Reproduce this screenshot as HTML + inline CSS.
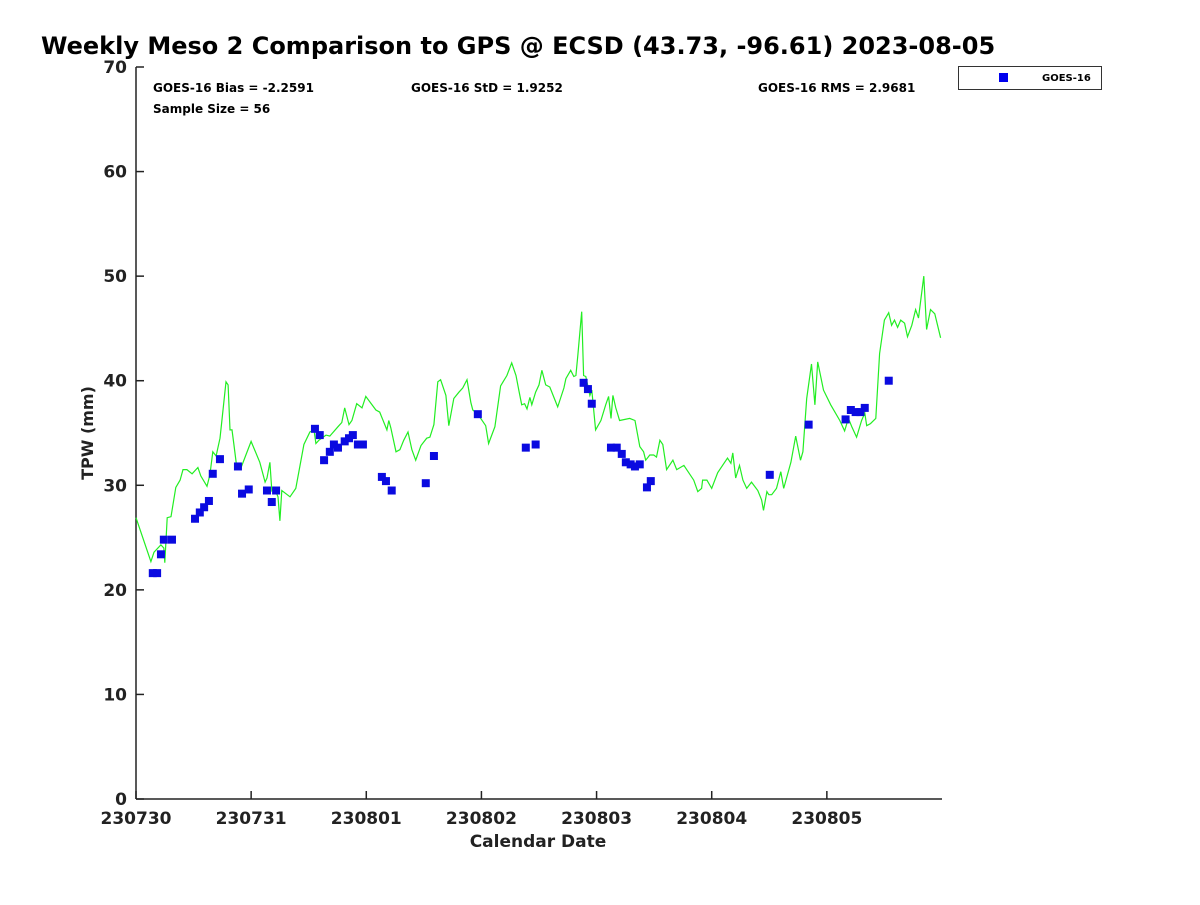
<!DOCTYPE html>
<html><head><meta charset="utf-8"><style>
body{margin:0;background:#fff;}
svg text{font-family:"DejaVu Sans","Liberation Sans",sans-serif;font-weight:bold;fill:#222;}
</style></head><body>
<svg id="chart" width="1200" height="900" xmlns="http://www.w3.org/2000/svg">
<text x="41" y="54" font-size="24" style="fill:#000">Weekly Meso 2 Comparison to GPS @ ECSD (43.73, -96.61) 2023-08-05</text>
<g id="axes"></g>
<text x="153" y="92" font-size="12" style="fill:#000">GOES-16 Bias = -2.2591</text>
<text x="411" y="92" font-size="12" style="fill:#000">GOES-16 StD = 1.9252</text>
<text x="758" y="92" font-size="12" style="fill:#000">GOES-16 RMS = 2.9681</text>
<text x="153" y="113" font-size="12" style="fill:#000">Sample Size = 56</text>
<g>
<rect x="958.5" y="66.5" width="143" height="23" fill="#fff" stroke="#333" stroke-width="1"/>
<rect x="999" y="73" width="9" height="9" fill="#0000ee"/>
<text x="1042" y="81" font-size="10" style="fill:#000">GOES-16</text>
</g>
<text x="538" y="847" font-size="17" text-anchor="middle">Calendar Date</text>
<text transform="translate(93,433) rotate(-90)" font-size="16" text-anchor="middle">TPW (mm)</text>
</svg>
<script>
const xTickLabels=["230730","230731","230801","230802","230803","230804","230805"];
const xTickHours=[0,24,48,72,96,120,144];
const yTicks=[0,10,20,30,40,50,60,70];
const gpsHours=[0,3.1,3.75,5.2,5.8,6.0,6.5,7.3,8.3,9.2,9.8,10.6,11.7,12.9,13.5,14.8,15.4,16.0,16.7,17.5,17.9,18.75,19.2,19.6,20.0,20.4,21.0,21.9,24.0,25.8,26.9,27.3,27.9,28.3,28.75,29.6,30.0,30.4,32.1,33.3,35.0,36.25,37.1,37.5,38.1,39.6,40.4,42.1,42.9,43.5,44.4,45.0,46.0,47.1,47.9,50.0,50.8,52.3,52.7,53.1,54.2,55.0,55.8,56.7,57.5,58.3,59.4,60.6,61.25,62.1,62.9,63.5,64.6,65.2,66.25,67.3,68.1,69.0,69.8,70.2,71.25,72.9,73.5,74.8,76.0,77.3,78.3,79.2,79.8,80.4,81.0,81.5,82.1,82.5,83.3,84.0,84.6,85.4,86.25,87.1,87.9,89.2,89.6,90.6,91.25,91.7,92.1,92.9,93.3,93.75,94.6,95.0,95.8,96.9,97.9,98.5,99.0,99.4,100.0,100.8,102.9,104.0,105.0,105.8,106.25,107.1,107.9,108.5,109.2,109.8,110.6,111.9,112.7,114.2,116.25,117.1,117.9,118.1,119.0,120.0,121.25,123.3,124.0,124.4,125.0,125.8,126.5,127.3,128.3,129.6,130.4,130.8,131.5,131.9,132.5,133.5,134.4,135.0,136.5,137.5,138.5,139.0,139.8,140.8,141.5,142.1,143.3,144.8,146.7,147.7,148.5,149.2,150.2,151.25,151.9,152.3,153.1,154.2,155.0,156.0,156.9,157.5,158.1,158.75,159.4,160.2,160.8,161.7,162.5,163.1,164.2,164.8,165.6,166.5,167.7];
const gpsTpw=[26.9,22.7,23.6,24.3,24.0,22.6,26.9,27.0,29.8,30.5,31.5,31.5,31.1,31.7,30.9,29.9,31.0,33.2,32.8,34.5,36.2,39.9,39.6,35.3,35.3,33.9,31.7,31.7,34.2,32.2,30.3,30.7,32.2,29.5,29.8,28.9,26.6,29.5,28.9,29.7,33.9,35.1,35.3,34.0,34.3,34.8,34.7,35.6,36.0,37.4,35.8,36.2,37.8,37.4,38.5,37.2,37.0,35.3,36.2,35.5,33.2,33.4,34.3,35.1,33.4,32.4,33.8,34.5,34.6,35.8,39.9,40.1,38.6,35.7,38.3,38.9,39.3,40.1,37.9,37.2,36.8,35.7,34.0,35.6,39.5,40.5,41.7,40.5,39.1,37.7,37.8,37.3,38.4,37.7,38.9,39.6,41.0,39.6,39.4,38.4,37.5,39.3,40.2,41.0,40.4,40.5,42.5,46.6,40.5,40.4,38.6,39.1,35.3,36.2,37.7,38.5,36.4,38.6,37.4,36.2,36.4,36.2,33.7,33.2,32.4,32.9,32.9,32.7,34.3,33.9,31.5,32.4,31.5,31.9,30.5,29.4,29.7,30.5,30.5,29.7,31.2,32.6,32.1,33.1,30.7,31.9,30.5,29.7,30.3,29.5,28.6,27.6,29.4,29.1,29.1,29.7,31.3,29.7,32.2,34.7,32.4,33.2,38.3,41.6,37.7,41.8,39.1,37.7,36.2,35.2,36.4,35.6,34.6,36.2,36.9,35.7,35.9,36.4,42.6,45.8,46.5,45.3,45.8,45.1,45.8,45.5,44.2,45.3,46.8,46.0,50.0,44.9,46.8,46.4,44.1];
const goesHours=[3.5,4.4,5.2,5.8,7.5,12.3,13.3,14.2,15.2,16.0,17.5,21.25,22.1,23.5,27.3,28.3,29.2,37.3,38.3,39.2,40.4,41.25,42.1,43.5,44.4,45.2,46.25,47.3,51.25,52.1,53.3,60.4,62.1,71.25,81.25,83.3,93.3,94.2,95.0,99.0,100.2,101.25,102.1,103.1,104.0,105.0,106.5,107.3,132.1,140.2,147.9,149.0,150.0,151.0,151.9,156.9];
const goesTpw=[21.6,21.6,23.4,24.8,24.8,26.8,27.4,27.9,28.5,31.1,32.5,31.8,29.2,29.6,29.5,28.4,29.5,35.4,34.8,32.4,33.2,33.9,33.6,34.2,34.5,34.8,33.9,33.9,30.8,30.4,29.5,30.2,32.8,36.8,33.6,33.9,39.8,39.2,37.8,33.6,33.6,33.0,32.2,32.0,31.8,32.0,29.8,30.4,31.0,35.8,36.3,37.2,37.0,37.0,37.4,40.0];

const NS="http://www.w3.org/2000/svg";
const svg=document.getElementById('chart');
const X0=136,X1=942,Y0=799,Y1=67;
function xs(h){return X0+(h-0)/(168-0)*(X1-X0);}
function ys(v){return Y0-(v-0)/(70-0)*(Y0-Y1);}
function mk(tag,attrs){const e=document.createElementNS(NS,tag);for(const k in attrs)e.setAttribute(k,attrs[k]);return e;}
const axes=document.getElementById('axes');
const yAxis=mk('line',{x1:X0,y1:Y0,x2:X0,y2:Y1,stroke:'#222','stroke-width':1.5});


axes.appendChild(yAxis);
const xAxis=mk('line',{x1:X0,y1:Y0,x2:X1,y2:Y0,stroke:'#222','stroke-width':1.5});


axes.appendChild(xAxis);
yTicks.forEach(v=>{
  const y=ys(v);
  const t=mk('line',{x1:X0,y1:y,x2:X0+8,y2:y,stroke:'#222','stroke-width':1.5});
  
  
  axes.appendChild(t);
  const l=mk('text',{x:X0-9,y:y+6,'font-size':17,'text-anchor':'end'});
  l.textContent=v;
  
  
  axes.appendChild(l);
});
xTickHours.forEach((h,i)=>{
  const x=xs(h);
  const t=mk('line',{x1:x,y1:Y0,x2:x,y2:Y0-8,stroke:'#222','stroke-width':1.5});
  
  
  axes.appendChild(t);
  const l=mk('text',{x:x,y:824,'font-size':17,'text-anchor':'middle'});
  l.textContent=xTickLabels[i];
  
  
  axes.appendChild(l);
});
const pts=gpsHours.map((h,i)=>xs(h).toFixed(1)+','+ys(gpsTpw[i]).toFixed(1)).join(' ');
const line=mk('polyline',{points:pts,fill:'none',stroke:'#22ee22','stroke-width':1.2});


svg.appendChild(line);
goesHours.forEach((h,i)=>{
  const r=mk('rect',{x:xs(h)-4,y:ys(goesTpw[i])-4,width:8,height:8,fill:'#0a0ae0'});
  
  
  svg.appendChild(r);
});
</script>
</body></html>
